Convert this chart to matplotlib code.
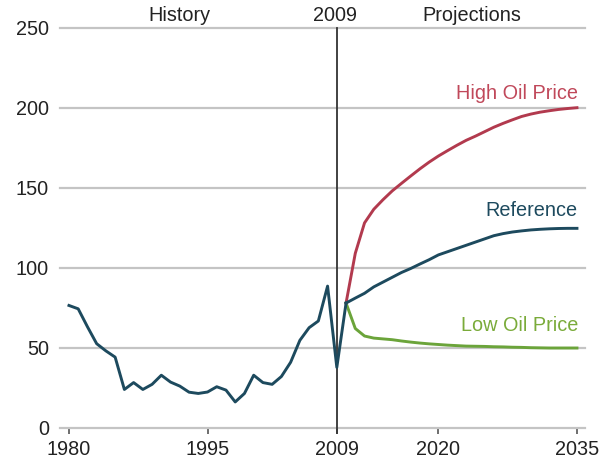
import numpy as np
import matplotlib
matplotlib.use('Agg')
import matplotlib.pyplot as plt
import matplotlib.transforms as mtransforms

plt.rcParams['font.family'] = ['Liberation Sans', 'DejaVu Sans']

# history, 1980-2010
hist_years = list(range(1980, 2011))
hist_price = [76.4, 74.3, 63.1, 52.5, 48.0, 44.1, 23.9, 28.2, 23.9, 27.1,
              32.8, 28.5, 26.0, 22.2, 21.4, 22.3, 25.6, 23.5, 16.1, 21.4,
              32.8, 28.2, 27.1, 32.0, 40.9, 54.6, 62.5, 66.7, 88.5, 37.7,
              77.9]

# projections, 2010-2035
proj_years = list(range(2010, 2036))
high_price = [77.9, 109, 128, 136.5, 142.5, 148, 152.7, 157.3, 161.8, 166,
              169.8, 173.2, 176.5, 179.6, 182.2, 185, 187.8, 190.2, 192.4, 194.5,
              196, 197.2, 198.1, 198.9, 199.5, 200]
ref_price = [77.9, 81, 84, 88, 91, 94, 97, 99.5, 102.3, 105,
             108, 110, 112, 114, 116, 118, 120, 121.3, 122.3, 123,
             123.6, 124, 124.3, 124.5, 124.6, 124.6]
low_price = [77.9, 62, 57.3, 56, 55.5, 55, 54.2, 53.5, 52.9, 52.4,
             52, 51.6, 51.3, 51, 50.9, 50.8, 50.6, 50.5, 50.3, 50.2,
             50, 49.9, 49.8, 49.8, 49.8, 49.8]

xticks = [1980, 1995, 2009, 2020, 2035]
yticks = [0, 50, 100, 150, 200, 250]

navy = '#1d4a5e'
red = '#b23a4e'
green = '#6ba43a'
fs = 14.3

fig = plt.figure(figsize=(5.99, 4.63), dpi=100)
ax = fig.add_axes([60/599, 35.3/463, 525/599, 400/463])

ax.set_xlim(1979.03, 2035.87)
ax.set_ylim(0, 250)
for s in ax.spines.values():
    s.set_visible(False)

ax.set_yticks(yticks)
ax.set_xticks(xticks)
ax.grid(axis='y', color='#c4c4c4', lw=1.6)
for gl in ax.get_ygridlines():
    gl.set_clip_on(False)
ax.set_axisbelow(True)
ax.tick_params(axis='y', length=0, pad=8, labelsize=fs, labelcolor='#222222')
ax.tick_params(axis='x', length=4, width=1.2, color='#555555', pad=5,
               labelsize=fs, labelcolor='#222222')

# 2009 divider
ax.plot([2009, 2009], [-3.5, 250], color='#333333', lw=1.3, clip_on=False, zorder=2)

ax.plot(proj_years, high_price, color=red, lw=2.1, zorder=3)
ax.plot(proj_years, low_price, color=green, lw=2.1, zorder=3)
ax.plot(proj_years, ref_price, color=navy, lw=2.1, zorder=4)
ax.plot(hist_years, hist_price, color=navy, lw=2.1, zorder=4)

trans = mtransforms.blended_transform_factory(ax.transData, ax.transAxes)
ax.text(1992.0, 1.03, 'History', transform=trans, ha='center', va='center',
        fontsize=fs, color='#222222')
ax.text(2008.8, 1.03, '2009', transform=trans, ha='center', va='center',
        fontsize=fs, color='#222222')
ax.text(2023.6, 1.03, 'Projections', transform=trans, ha='center', va='center',
        fontsize=fs, color='#222222')

ax.text(2035.1, 209, 'High Oil Price', ha='right', va='center', fontsize=fs, color='#c0485a')
ax.text(2035.1, 135.5, 'Reference', ha='right', va='center', fontsize=fs, color=navy)
ax.text(2035.1, 64, 'Low Oil Price', ha='right', va='center', fontsize=fs, color='#7aab3a')

fig.savefig('out.png', dpi=100)
